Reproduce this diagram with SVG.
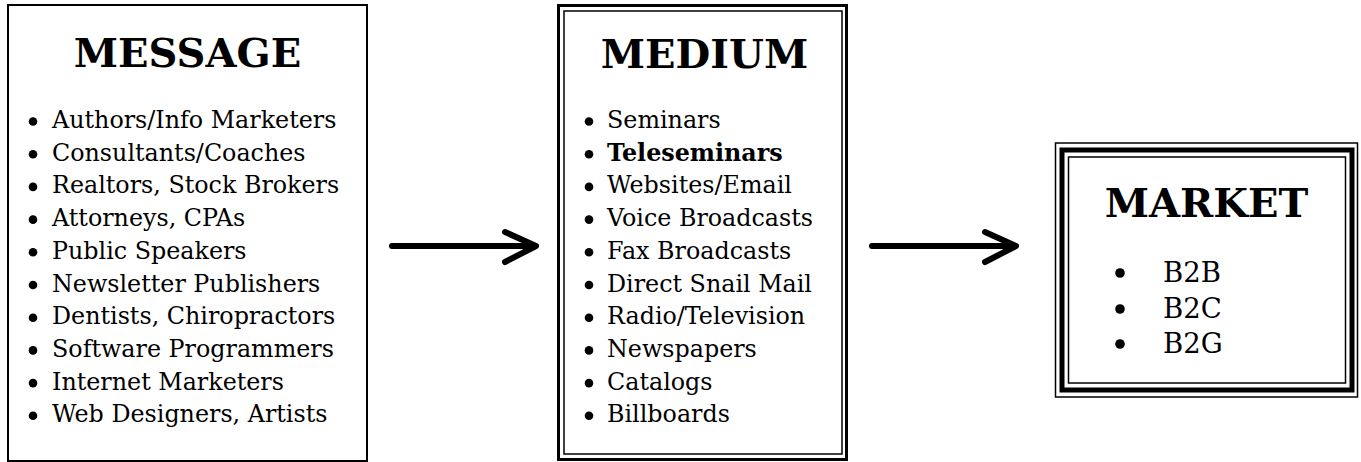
<svg xmlns="http://www.w3.org/2000/svg" width="1361" height="462" viewBox="0 0 1361 462">
<style>
.title{font-family:"DejaVu Serif","Liberation Serif",serif;font-weight:bold;font-size:40px;fill:#000;text-anchor:middle}
.item{font-family:"DejaVu Serif","Liberation Serif",serif;font-size:23.8px;fill:#000}
.mitem{font-family:"DejaVu Serif","Liberation Serif",serif;font-size:27.5px;fill:#000}
.b{font-weight:bold}
.frame{fill:#fff;stroke:#000}
.arrow{fill:none;stroke:#000;stroke-width:6;stroke-linecap:round;stroke-linejoin:round}
</style>
<rect width="1361" height="462" fill="#fff"/>
<g id="message">
<rect class="frame" x="8" y="5" width="359" height="456" stroke-width="2"/>
<text class="title" x="187.5" y="67">MESSAGE</text>
<g fill="#000">
<circle cx="33" cy="121.5" r="4.3"/><circle cx="33" cy="154.2" r="4.3"/><circle cx="33" cy="186.9" r="4.3"/><circle cx="33" cy="219.6" r="4.3"/><circle cx="33" cy="252.3" r="4.3"/><circle cx="33" cy="285" r="4.3"/><circle cx="33" cy="317.7" r="4.3"/><circle cx="33" cy="350.4" r="4.3"/><circle cx="33" cy="383.1" r="4.3"/><circle cx="33" cy="415.8" r="4.3"/>
</g>
<text class="item" x="52" y="128">Authors/Info Marketers</text>
<text class="item" x="52" y="160.7">Consultants/Coaches</text>
<text class="item" x="52" y="193.4">Realtors, Stock Brokers</text>
<text class="item" x="52" y="226.1">Attorneys, CPAs</text>
<text class="item" x="52" y="258.8">Public Speakers</text>
<text class="item" x="52" y="291.5">Newsletter Publishers</text>
<text class="item" x="52" y="324.2">Dentists, Chiropractors</text>
<text class="item" x="52" y="356.9">Software Programmers</text>
<text class="item" x="52" y="389.6">Internet Marketers</text>
<text class="item" x="52" y="422.3">Web Designers, Artists</text>
</g>
<g id="medium">
<rect class="frame" x="558.5" y="5.5" width="288" height="454" stroke-width="3"/>
<rect fill="none" stroke="#000" x="564" y="11" width="278" height="443" stroke-width="1.5"/>
<text class="title" x="704.5" y="68">MEDIUM</text>
<g fill="#000">
<circle cx="589" cy="121.5" r="4.3"/><circle cx="589" cy="154.2" r="4.3"/><circle cx="589" cy="186.9" r="4.3"/><circle cx="589" cy="219.6" r="4.3"/><circle cx="589" cy="252.3" r="4.3"/><circle cx="589" cy="285" r="4.3"/><circle cx="589" cy="317.7" r="4.3"/><circle cx="589" cy="350.4" r="4.3"/><circle cx="589" cy="383.1" r="4.3"/><circle cx="589" cy="415.8" r="4.3"/>
</g>
<text class="item" x="607" y="128">Seminars</text>
<text class="item b" x="607" y="160.7">Teleseminars</text>
<text class="item" x="607" y="193.4">Websites/Email</text>
<text class="item" x="607" y="226.1">Voice Broadcasts</text>
<text class="item" x="607" y="258.8">Fax Broadcasts</text>
<text class="item" x="607" y="291.5">Direct Snail Mail</text>
<text class="item" x="607" y="324.2">Radio/Television</text>
<text class="item" x="607" y="356.9">Newspapers</text>
<text class="item" x="607" y="389.6">Catalogs</text>
<text class="item" x="607" y="422.3">Billboards</text>
</g>
<g id="market">
<rect class="frame" x="1055.5" y="143" width="302" height="254" stroke-width="1.5"/>
<rect fill="none" stroke="#000" x="1062" y="150" width="290" height="240" stroke-width="5"/>
<rect fill="none" stroke="#000" x="1068.5" y="157" width="277" height="226" stroke-width="1.5"/>
<text class="title" x="1206.5" y="217">MARKET</text>
<g fill="#000">
<circle cx="1120" cy="273" r="4.8"/><circle cx="1120" cy="309" r="4.8"/><circle cx="1120" cy="344" r="4.8"/>
</g>
<text class="mitem" x="1163" y="282">B2B</text>
<text class="mitem" x="1163" y="318">B2C</text>
<text class="mitem" x="1163" y="353">B2G</text>
</g>
<g id="connectors">
<path class="arrow" d="M392 246 H535 M505 232 L536 246 L505 262"/>
<path class="arrow" d="M872 246 H1015 M985 232 L1016 246 L985 262"/>
</g>
</svg>
